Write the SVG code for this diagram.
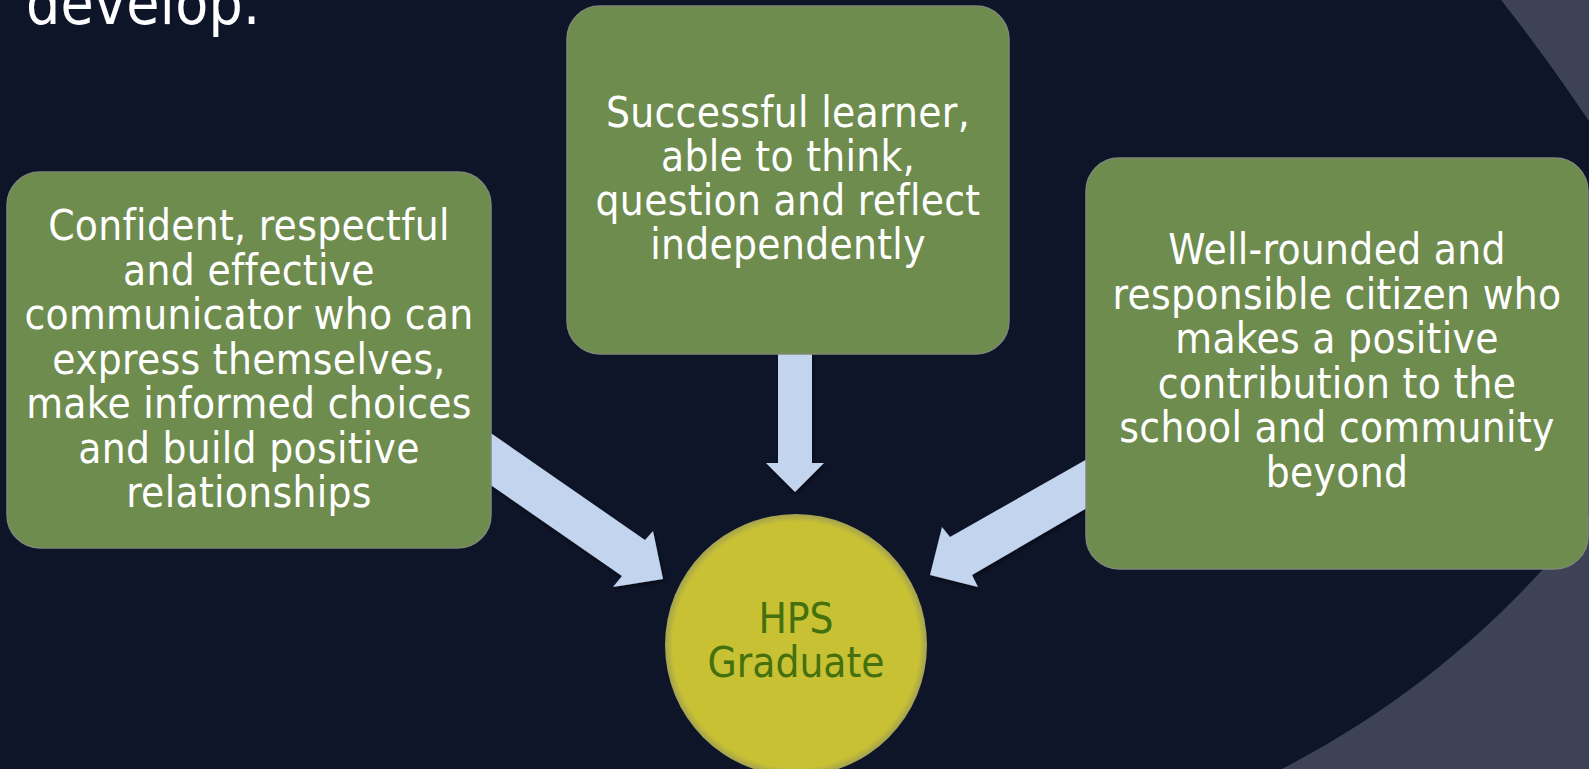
<svg xmlns="http://www.w3.org/2000/svg" width="1589" height="769" viewBox="0 0 1589 769">
  <style>
    .bg { fill: #0e1529; }
    .bgl { fill: #3e4256; }
    .box { fill: #6e8c4e; stroke: #7f8876; stroke-width: 1.5; }
    .arrow { fill: #c3d4ee; filter: url(#ashadow); }
    .t { font-family: "DejaVu Sans Condensed", "DejaVu Sans", sans-serif; font-stretch: condensed; font-size: 42px; letter-spacing: 0.3px; fill: #ffffff; text-anchor: middle; }
    .g { font-family: "DejaVu Sans Condensed", "DejaVu Sans", sans-serif; font-stretch: condensed; font-size: 42px; fill: #44700d; text-anchor: middle; }
    .title { font-family: "DejaVu Sans Condensed", "DejaVu Sans", sans-serif; font-stretch: condensed; font-size: 60px; letter-spacing: 0.3px; fill: #ffffff; }
  </style>
  <defs>
    <filter id="ashadow" x="-20%" y="-20%" width="140%" height="140%">
      <feDropShadow dx="1" dy="2" stdDeviation="2" flood-color="#000000" flood-opacity="0.6"/>
    </filter>
    <radialGradient id="circ" cx="0.5" cy="0.5" r="0.5">
      <stop offset="0.94" stop-color="#c8c133"/>
      <stop offset="1" stop-color="#a3a152"/>
    </radialGradient>
  </defs>

  <g id="background">
    <rect class="bg" x="0" y="0" width="1589" height="769"/>
    <path class="bgl" d="M1501,0 Q1547,58 1595,130 L1595,0 Z"/>
    <path class="bgl" d="M1600,500 C1525,600 1420,700 1270,775 L1600,775 Z"/>
  </g>

  <g id="title">
    <text class="title" x="26" y="24">develop.</text>
  </g>

  <g id="connectors">
    <polygon class="arrow" points="430,391 645,540 653,531 663,579 613,587 622,576 430,443"/>
    <polygon class="arrow" points="778,300 812,300 812,463 824,463 795,492 766,463 778,463"/>
    <polygon class="arrow" points="1140,429 950,537 942,527 930,575 978,587 972,575 1140,477"/>
  </g>

  <g id="node-left">
    <rect class="box" x="7" y="172" width="484" height="376" rx="33" ry="33"/>
    <text class="t" x="249" y="240">Confident, respectful</text>
    <text class="t" x="249" y="284.5">and effective</text>
    <text class="t" x="249" y="329">communicator who can</text>
    <text class="t" x="249" y="373.5">express themselves,</text>
    <text class="t" x="249" y="418">make informed choices</text>
    <text class="t" x="249" y="462.5">and build positive</text>
    <text class="t" x="249" y="507">relationships</text>
  </g>

  <g id="node-top">
    <rect class="box" x="567" y="6" width="442" height="348" rx="33" ry="33"/>
    <text class="t" x="788" y="127">Successful learner,</text>
    <text class="t" x="788" y="171">able to think,</text>
    <text class="t" x="788" y="215">question and reflect</text>
    <text class="t" x="788" y="259">independently</text>
  </g>

  <g id="node-right">
    <rect class="box" x="1086" y="158" width="502" height="411" rx="33" ry="33"/>
    <text class="t" x="1337" y="264">Well-rounded and</text>
    <text class="t" x="1337" y="308.5">responsible citizen who</text>
    <text class="t" x="1337" y="353">makes a positive</text>
    <text class="t" x="1337" y="397.5">contribution to the</text>
    <text class="t" x="1337" y="442">school and community</text>
    <text class="t" x="1337" y="486.5">beyond</text>
  </g>

  <g id="node-center">
    <circle cx="796" cy="645" r="131" fill="url(#circ)"/>
    <text class="g" x="796" y="633">HPS</text>
    <text class="g" x="796" y="677">Graduate</text>
  </g>
</svg>
